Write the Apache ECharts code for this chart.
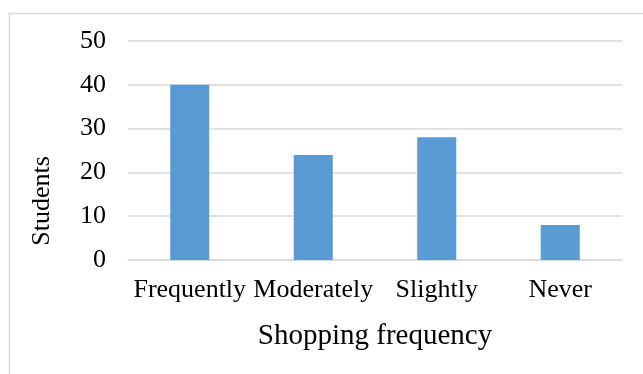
<!DOCTYPE html>
<html>
<head>
<meta charset="utf-8">
<script src="https://cdn.jsdelivr.net/npm/echarts@6/dist/echarts.min.js"></script>
<style>
html,body{margin:0;padding:0;background:#fff;}
#c{width:643px;height:374px;}
</style>
</head>
<body>
<div id="c"></div>
<script>
var categories = ['Frequently', 'Moderately', 'Slightly', 'Never'];
var students = [40, 24, 28, 8];
var yTicks = [0, 10, 20, 30, 40, 50];

var FONT = "'Liberation Serif','Times New Roman',serif";
var chart = echarts.init(document.getElementById('c'), null, {renderer: 'canvas'});
chart.setOption({
  animation: false,
  backgroundColor: '#fff',
  grid: {left: 128, right: 21, top: 41, bottom: 114},
  graphic: [
    {type: 'rect', left: 7, top: 11, shape: {width: 660, height: 400},
     style: {fill: 'none', stroke: '#d9d9d9', lineWidth: 1.5}, z: -1},
    {type: 'text', x: 42, y: 201, rotation: Math.PI / 2,
     style: {text: 'Students', font: '26px ' + FONT, fill: '#000', align: 'center', verticalAlign: 'middle'}}
  ],
  xAxis: {
    type: 'category',
    data: categories,
    name: 'Shopping frequency',
    nameLocation: 'middle',
    nameGap: 62,
    nameTextStyle: {fontFamily: FONT, fontSize: 29, color: '#000'},
    axisLine: {lineStyle: {color: '#d9d9d9', width: 1.5}},
    axisTick: {show: false},
    axisLabel: {fontFamily: FONT, fontSize: 26, color: '#000', margin: 17, interval: 0}
  },
  yAxis: {
    type: 'value',
    min: yTicks[0],
    max: yTicks[yTicks.length - 1],
    interval: 10,
    axisLine: {show: false},
    axisTick: {show: false},
    splitLine: {lineStyle: {color: '#d9d9d9', width: 1.5}},
    axisLabel: {fontFamily: FONT, fontSize: 26, color: '#000', margin: 22}
  },
  series: [{
    type: 'bar',
    data: students,
    barWidth: '31.6%',
    itemStyle: {color: '#5b9bd5'}
  }]
});
</script>
</body>
</html>
